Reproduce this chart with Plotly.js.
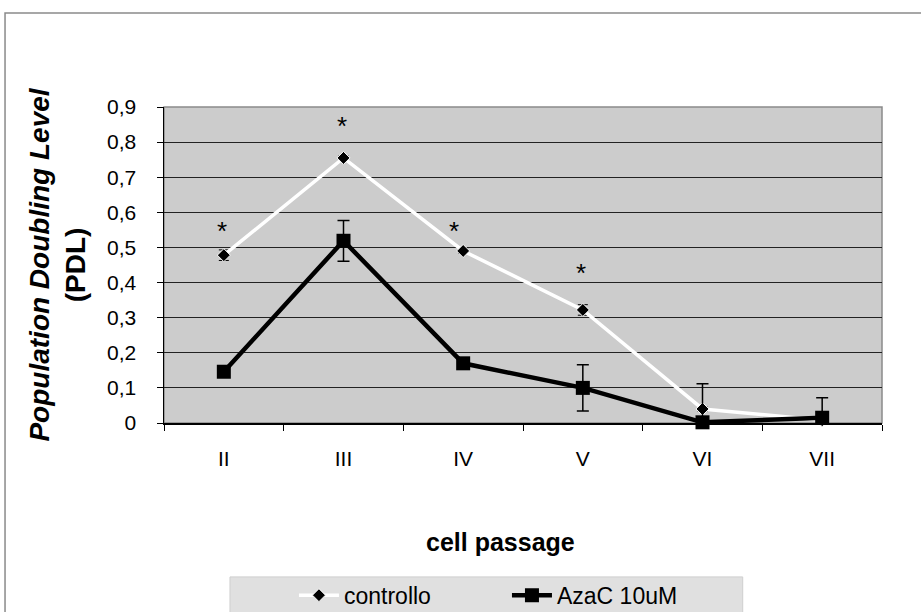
<!DOCTYPE html>
<html>
<head>
<meta charset="utf-8">
<script src="https://cdn.plot.ly/plotly-3.0.1.min.js"></script>
<style>html,body{margin:0;padding:0;background:#fff;}#chart{width:921px;height:612px;}</style>
</head>
<body>
<div id="chart"></div>
<script>
// ---- data ----
var passages = ["II", "III", "IV", "V", "VI", "VII"];
var controllo = [0.478, 0.755, 0.490, 0.322, 0.040, 0.008];
var controlloErr = [0.015, 0.006, 0.006, 0.015, 0.006, 0.0];
var azac = [0.146, 0.519, 0.170, 0.100, 0.002, 0.015];
var azacErr = [0.006, 0.058, 0.006, 0.066, 0.110, 0.057];
var starPassages = ["II", "III", "IV", "V"];
var starHeights = [0.566, 0.866, 0.566, 0.448];
var yTitle = "<b><i>Population Doubling Level</i></b><br><b>(PDL)</b>";
var xTitle = "<b>cell passage</b>";

var FONT = "Liberation Sans, Arial, sans-serif";

var traces = [
  {
    x: passages, y: controllo, name: "controllo", type: "scatter", mode: "lines+markers",
    line: {color: "#ffffff", width: 3.5},
    marker: {symbol: "diamond", size: 10, color: "#000000", line: {color: "#ffffff", width: 1}},
    error_y: {type: "data", array: controlloErr, visible: true, color: "#000000", thickness: 1, width: 5},
    cliponaxis: false
  },
  {
    x: passages, y: azac, name: "AzaC 10uM", type: "scatter", mode: "lines+markers",
    line: {color: "#000000", width: 4.5},
    marker: {symbol: "square", size: 14, color: "#000000"},
    error_y: {type: "data", array: azacErr, visible: true, color: "#000000", thickness: 1.5, width: 6},
    cliponaxis: false
  }
];

var annotations = starPassages.map(function (p, i) {
  return {
    x: p, y: starHeights[i], xref: "x", yref: "y", text: "*", showarrow: false,
    font: {family: FONT, size: 26, color: "#000000"},
    xshift: (p === "IV" ? -9 : -2), yshift: -7
  };
});
// x-axis title (placed as in the reference, slightly left of the plot centre)
annotations.push({
  x: 0.468, y: -0.376, xref: "paper", yref: "paper", text: xTitle, showarrow: false,
  xanchor: "center", yanchor: "middle",
  font: {family: FONT, size: 25, color: "#000000"}
});

var layout = {
  width: 921, height: 612,
  margin: {l: 164, r: 39, t: 107, b: 189, pad: 0, autoexpand: false},
  paper_bgcolor: "#ffffff",
  plot_bgcolor: "#cccccc",
  separators: ",.",
  font: {family: FONT, color: "#000000"},
  showlegend: true,
  legend: {
    orientation: "h", x: 0.181, y: -0.545, xanchor: "left", yanchor: "middle",
    bgcolor: "rgba(0,0,0,0)", font: {family: FONT, size: 23, color: "#000000"},
    entrywidth: 158, entrywidthmode: "pixels", itemwidth: 40, traceorder: "normal"
  },
  xaxis: {
    type: "category", range: [-0.5, 5.5], tickson: "boundaries",
    ticks: "outside", ticklen: 6, tickcolor: "#000000", tickwidth: 1,
    showline: true, linecolor: "#000000", linewidth: 1.5,
    showgrid: false, zeroline: false,
    tickfont: {family: FONT, size: 21, color: "#000000"},
    ticklabelstandoff: 16,
    automargin: false, fixedrange: true
  },
  yaxis: {
    range: [0, 0.9], dtick: 0.1, tick0: 0,
    ticks: "outside", ticklen: 6, tickcolor: "#000000", tickwidth: 1,
    showline: true, linecolor: "#000000", linewidth: 1.5,
    showgrid: true, gridcolor: "#222222", gridwidth: 1, zeroline: false,
    tickfont: {family: FONT, size: 21, color: "#000000"},
    ticklabelstandoff: 16,
    title: {text: yTitle, font: {family: FONT, size: 28, color: "#000000"}, standoff: 13},
    automargin: false, fixedrange: true
  },
  shapes: [
    {type: "rect", xref: "paper", yref: "paper", x0: -0.2214, x1: 1.07, y0: -0.65, y1: 1.2975,
     line: {color: "#8a8a8a", width: 1.5}, fillcolor: "rgba(0,0,0,0)", layer: "below"},
    {type: "rect", xref: "paper", yref: "paper", x0: 0, x1: 1, y0: 0, y1: 1,
     line: {color: "#8a8a8a", width: 1.5}, fillcolor: "rgba(0,0,0,0)", layer: "below"},
    {type: "rect", xref: "paper", yref: "paper", x0: 0.0919, x1: 0.806, y0: -0.65, y1: -0.487,
     line: {color: "#cfcfcf", width: 1}, fillcolor: "#e0e0e0", layer: "below"}
  ],
  annotations: annotations
};

Plotly.newPlot("chart", traces, layout, {displayModeBar: false, staticPlot: true});
</script>
</body>
</html>
